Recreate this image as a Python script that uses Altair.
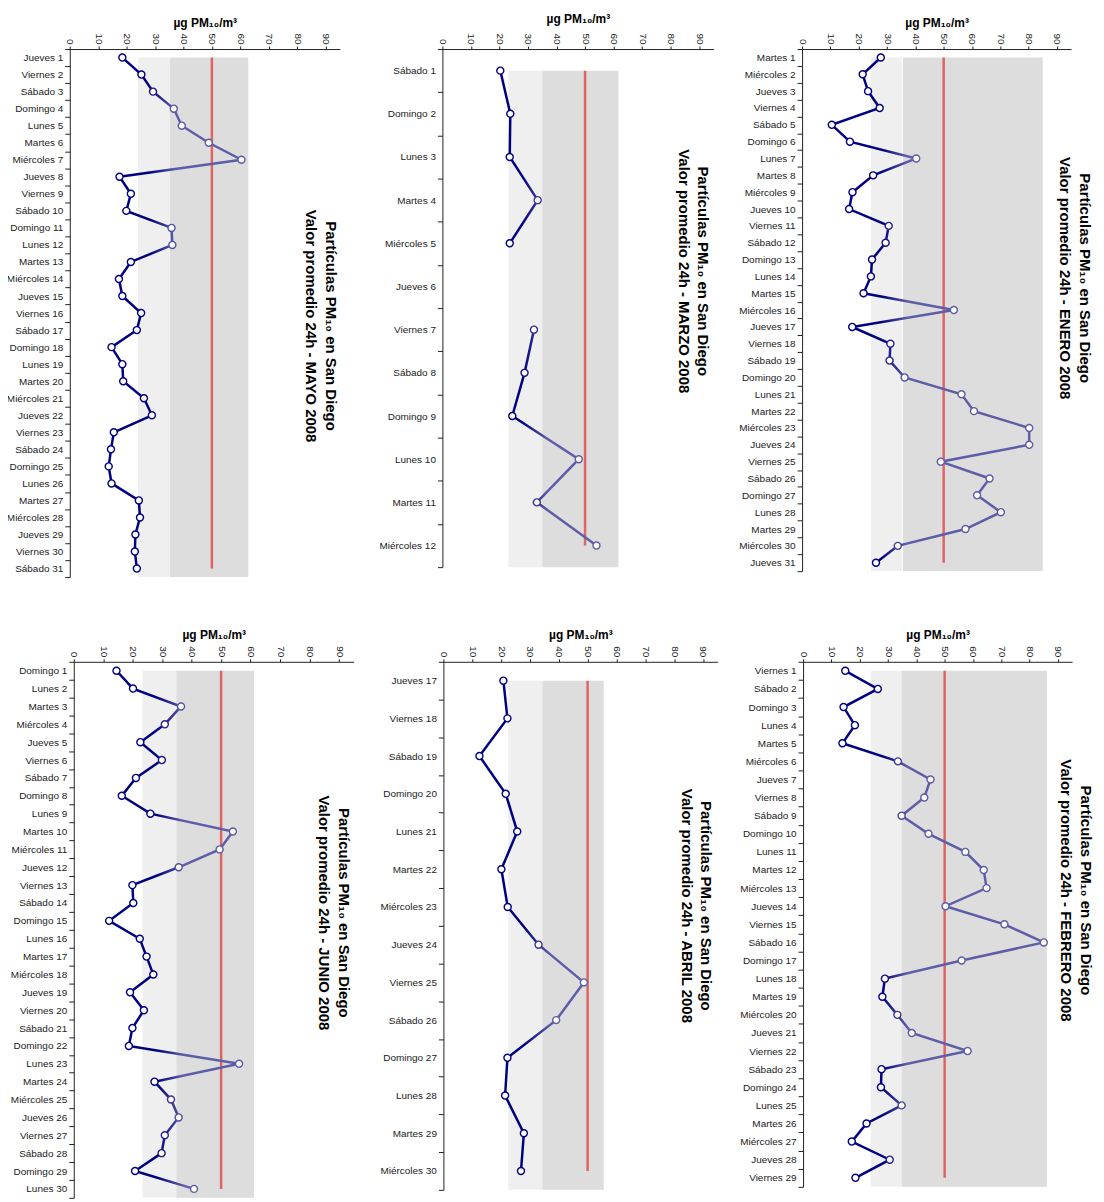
import altair as alt
import pandas as pd

DARK = "#000080"
LIGHT = "#5d5da8"
RED = "#e06464"
BAND_LIGHT = "#efefef"
BAND_DARK = "#dddddd"
FONT = "Liberation Sans"
LIMITE = 50
X_TICKS = [0, 10, 20, 30, 40, 50, 60, 70, 80, 90]
X_MAX = 95
TITULO_1 = "Partículas PM₁₀ en San Diego"
EJE_X = "µg PM₁₀/m³"

enero_dias = ["Martes 1", "Miércoles 2", "Jueves 3", "Viernes 4", "Sábado 5", "Domingo 6", "Lunes 7",
              "Martes 8", "Miércoles 9", "Jueves 10", "Viernes 11", "Sábado 12", "Domingo 13", "Lunes 14",
              "Martes 15", "Miércoles 16", "Jueves 17", "Viernes 18", "Sábado 19", "Domingo 20", "Lunes 21",
              "Martes 22", "Miércoles 23", "Jueves 24", "Viernes 25", "Sábado 26", "Domingo 27", "Lunes 28",
              "Martes 29", "Miércoles 30", "Jueves 31"]
enero_pm10 = [27.8, 21.4, 23.3, 27.4, 10.5, 16.9, 40.3, 25.1, 17.8, 16.6, 30.6, 29.5, 24.7, 24.3, 21.7,
              53.6, 17.7, 31.2, 30.9, 36.2, 56.3, 60.7, 80.2, 80.2, 49.0, 66.2, 61.8, 70.2, 57.7, 33.8, 26.1]
enero_bandas = [24.3, 35.4, 85.0]

febrero_dias = ["Viernes 1", "Sábado 2", "Domingo 3", "Lunes 4", "Martes 5", "Miércoles 6", "Jueves 7",
                "Viernes 8", "Sábado 9", "Domingo 10", "Lunes 11", "Martes 12", "Miércoles 13", "Jueves 14",
                "Viernes 15", "Sábado 16", "Domingo 17", "Lunes 18", "Martes 19", "Miércoles 20", "Jueves 21",
                "Viernes 22", "Sábado 23", "Domingo 24", "Lunes 25", "Martes 26", "Miércoles 27", "Jueves 28",
                "Viernes 29"]
febrero_pm10 = [14.9, 26.4, 14.3, 18.3, 13.9, 33.5, 45.0, 42.8, 34.8, 44.3, 57.3, 63.8, 64.8, 50.3, 71.1,
                85.0, 56.0, 28.9, 28.0, 33.3, 38.4, 58.1, 27.7, 27.5, 34.8, 22.4, 17.2, 30.6, 18.5]
febrero_bandas = [23.9, 34.8, 86.1]

marzo_dias = ["Sábado 1", "Domingo 2", "Lunes 3", "Martes 4", "Miércoles 5", "Jueves 6", "Viernes 7",
              "Sábado 8", "Domingo 9", "Lunes 10", "Martes 11", "Miércoles 12"]
marzo_pm10 = [20.3, 23.8, 23.6, 33.4, 23.6, None, 32.1, 28.8, 24.5, 47.8, 33.1, 54.0]
marzo_bandas = [23.1, 35.0, 61.7]

abril_dias = ["Jueves 17", "Viernes 18", "Sábado 19", "Domingo 20", "Lunes 21", "Martes 22", "Miércoles 23",
              "Jueves 24", "Viernes 25", "Sábado 26", "Domingo 27", "Lunes 28", "Martes 29", "Miércoles 30"]
abril_pm10 = [20.8, 22.2, 12.5, 21.6, 25.6, 20.1, 22.3, 33.0, 48.7, 39.1, 22.2, 21.4, 27.9, 26.9]
abril_bandas = [22.5, 34.3, 55.6]

mayo_dias = ["Jueves 1", "Viernes 2", "Sábado 3", "Domingo 4", "Lunes 5", "Martes 6", "Miércoles 7",
             "Jueves 8", "Viernes 9", "Sábado 10", "Domingo 11", "Lunes 12", "Martes 13", "Miércoles 14",
             "Jueves 15", "Viernes 16", "Sábado 17", "Domingo 18", "Lunes 19", "Martes 20", "Miércoles 21",
             "Jueves 22", "Viernes 23", "Sábado 24", "Domingo 25", "Lunes 26", "Martes 27", "Miércoles 28",
             "Jueves 29", "Viernes 30", "Sábado 31"]
mayo_pm10 = [18.5, 25.2, 29.3, 36.6, 39.4, 48.9, 60.4, 17.5, 21.5, 19.9, 35.8, 36.1, 21.5, 17.3, 18.5,
             25.1, 23.6, 14.7, 18.5, 18.8, 26.1, 28.9, 15.5, 14.5, 13.7, 14.7, 24.3, 24.7, 23.1, 22.9, 23.6]
mayo_bandas = [24.0, 35.2, 62.8]

junio_dias = ["Domingo 1", "Lunes 2", "Martes 3", "Miércoles 4", "Jueves 5", "Viernes 6", "Sábado 7",
              "Domingo 8", "Lunes 9", "Martes 10", "Miércoles 11", "Jueves 12", "Viernes 13", "Sábado 14",
              "Domingo 15", "Lunes 16", "Martes 17", "Miércoles 18", "Jueves 19", "Viernes 20", "Sábado 21",
              "Domingo 22", "Lunes 23", "Martes 24", "Miércoles 25", "Jueves 26", "Viernes 27", "Sábado 28",
              "Domingo 29", "Lunes 30"]
junio_pm10 = [14.5, 20.1, 36.4, 30.9, 22.6, 29.9, 21.1, 16.3, 26.0, 54.0, 49.5, 35.6, 19.9, 20.2,
              12.0, 22.4, 24.7, 27.0, 19.1, 23.8, 19.9, 18.7, 56.1, 27.4, 33.0, 35.6, 30.9, 29.8, 20.8, 40.8]
junio_bandas = [23.3, 34.8, 61.2]

# colour transition of the series (value range where dark navy turns to slate)
TRANS = [28, 37]


def clamp(v):
    return max(0.0, min(1.0, v))


def panel(dias, valores, bandas, mes, width, height, t_off, t_dx, x_title_pad=4, shift=0,
          separador=False):
    n = len(dias)
    serie = pd.DataFrame({"dia": dias, "pm10": valores, "orden": list(range(n))})
    fondo = pd.DataFrame({"desde": bandas[:2], "hasta": bandas[1:],
                          "tono": [BAND_LIGHT, BAND_DARK], "dia": [dias[0]] * 2})
    limite = pd.DataFrame({"pm10": [LIMITE], "dia": [dias[0]], "dia_fin": [dias[-1]]})

    validos = [v for v in valores if v is not None]
    lo, hi = min(validos), max(validos)
    o1 = clamp((TRANS[0] - lo) / (hi - lo))
    o2 = clamp((TRANS[1] - lo) / (hi - lo))
    grad = alt.Gradient(
        gradient="linear", x1=0, x2=1, y1=0, y2=0,
        stops=[alt.GradientStop(color=DARK, offset=0),
               alt.GradientStop(color=DARK, offset=o1),
               alt.GradientStop(color=LIGHT, offset=o2),
               alt.GradientStop(color=LIGHT, offset=1)])

    if shift:
        # the value axis starts `shift` px to the right of the panel origin
        xs = alt.Scale(domain=[0, X_MAX], nice=False, zero=False, range=[shift, width + shift])
    else:
        xs = alt.Scale(domain=[0, X_MAX], nice=False, zero=False)
    ys = alt.Scale(type="band", domain=dias, paddingInner=0, paddingOuter=0)
    xa = alt.Axis(orient="top", values=X_TICKS, labelAngle=90, labelAlign="right",
                  labelBaseline="middle", title=EJE_X, titleFontWeight="bold",
                  titleFontSize=12, titlePadding=x_title_pad, titleColor="#000", tickSize=3,
                  labelPadding=2, labelFontSize=10, labelColor="#222", domainColor="#222",
                  tickColor="#222", grid=False, labelFlush=False, labelOverlap=False)
    ya = alt.Axis(title=None, tickBand="extent", tickSize=5, labelPadding=2, labelFontSize=10,
                  labelColor="#222", domainColor="#222", tickColor="#222", grid=False,
                  labelOverlap=False, offset=-shift)

    X = lambda f: alt.X(f, scale=xs, axis=xa)
    Y = lambda f: alt.Y(f, scale=ys, axis=ya, bandPosition=0.5)

    rect = alt.Chart(fondo).mark_rect().encode(
        x=X("desde:Q"), x2="hasta:Q", y=Y("dia:N"), y2=alt.value("height"),
        fill=alt.Fill("tono:N", scale=None))
    capas = [rect]
    if separador:
        sep = pd.DataFrame({"pm10": [bandas[1]], "dia": [dias[0]]})
        capas.append(alt.Chart(sep).mark_rule(color="white", strokeWidth=1).encode(
            x=X("pm10:Q"), y=Y("dia:N"), y2=alt.value("height")))
    regla = alt.Chart(limite).mark_rule(color=RED, strokeWidth=2.5).encode(
        x=X("pm10:Q"), y=Y("dia:N"), y2="dia_fin:N")
    linea = alt.Chart(serie).mark_line(stroke=grad, strokeWidth=2.5,
                                       invalid="break-paths-show-domains").encode(
        x=X("pm10:Q"), y=Y("dia:N"), order="orden:Q")
    puntos = alt.Chart(serie).transform_filter("isValid(datum.pm10)").mark_point(
        shape="circle", filled=True, fill="white", size=50, strokeWidth=1.4, opacity=1).encode(
        x=X("pm10:Q"), y=Y("dia:N"),
        stroke=alt.Stroke("pm10:Q", scale=alt.Scale(domain=TRANS, range=[DARK, LIGHT], clamp=True),
                          legend=None))
    capas += [regla, linea, puntos]
    return alt.layer(*capas).properties(
        width=width + shift, height=height,
        title=alt.TitleParams(text=[TITULO_1, f"Valor promedio 24h - {mes} 2008"], orient="right",
                              angle=90, anchor="middle", fontSize=15, fontWeight="bold",
                              lineHeight=20, offset=t_off, dx=t_dx, color="#000"))


IND = dict(x="independent", y="independent", stroke="independent")

mayo = panel(mayo_dias, mayo_pm10, mayo_bandas, "MAYO", 271, 530, -37, 13)
marzo = panel(marzo_dias, marzo_pm10, marzo_bandas, "MARZO", 272, 520, -38, -37, x_title_pad=8)
enero = panel(enero_dias, enero_pm10, enero_bandas, "ENERO", 270, 524, -14, -32, separador=True)
junio = panel(junio_dias, junio_pm10, junio_bandas, "JUNIO", 281, 538, -38, -17, shift=4)
abril = panel(abril_dias, abril_pm10, abril_bandas, "ABRIL", 275, 530, -39, -20)
febrero = panel(febrero_dias, febrero_pm10, febrero_bandas, "FEBRERO", 270, 527, -14, -34)

fila1 = alt.concat(
    mayo,
    alt.concat(marzo, enero, columns=2, align="none", spacing=25).resolve_scale(**IND),
    columns=2, align="none", spacing=39).resolve_scale(**IND)
fila2 = alt.concat(
    junio,
    alt.concat(abril, febrero, columns=2, align="none", spacing=22).resolve_scale(**IND),
    columns=2, align="none", spacing=26).resolve_scale(**IND)

chart = alt.concat(fila1, fila2, columns=1, align="none", spacing=50).resolve_scale(**IND).properties(
    padding={"left": -2, "top": 1, "right": 3, "bottom": 0}
).configure(font=FONT).configure_view(stroke=None)

chart.save("out.html", embed_options={"renderer": "svg", "actions": False})
